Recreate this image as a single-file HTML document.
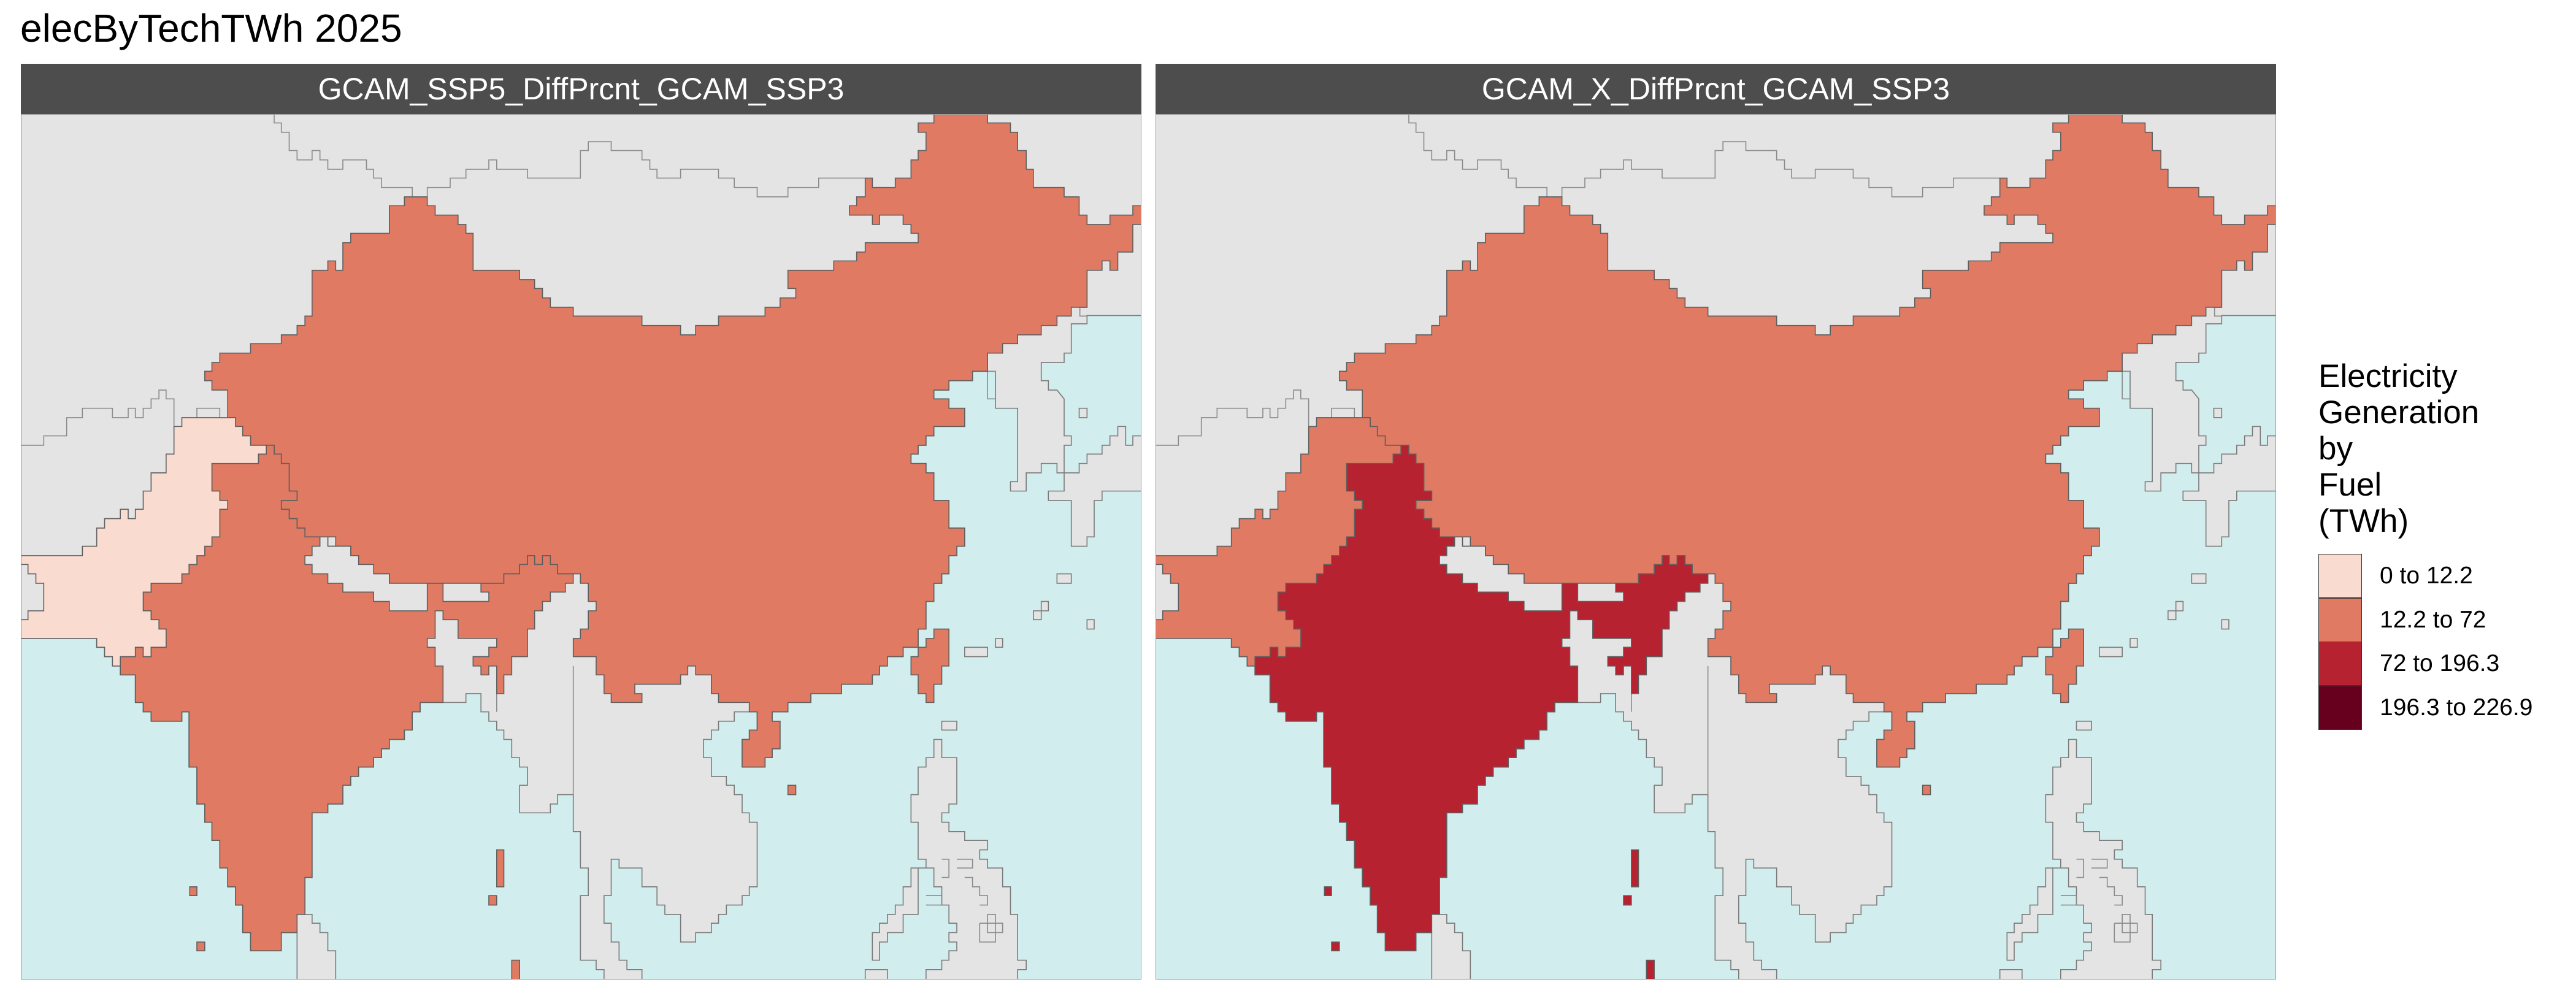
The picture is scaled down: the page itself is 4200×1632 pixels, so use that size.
<!DOCTYPE html>
<html><head><meta charset="utf-8">
<style>
html,body{margin:0;padding:0;background:#fff;}
body{width:4200px;height:1632px;position:relative;overflow:hidden;font-family:"Liberation Sans",sans-serif;}
#title{position:absolute;left:33px;top:9px;font-size:64px;color:#000;}
.strip{position:absolute;top:104px;height:82px;background:#4d4d4d;color:#fff;font-size:50px;text-align:center;line-height:82px;}
.panel{position:absolute;top:186px;height:1411px;width:1827px;}
#legend-title{position:absolute;left:3780px;top:584px;font-size:53px;line-height:59px;}
.key{position:absolute;left:3780px;width:71px;height:72px;border:1px solid #333;box-sizing:border-box;}
.klab{position:absolute;left:3880px;font-size:39px;line-height:72px;}
</style></head>
<body>
<div id="title">elecByTechTWh 2025</div>
<div class="strip" style="left:34px;width:1827px">GCAM_SSP5_DiffPrcnt_GCAM_SSP3</div>
<div class="strip" style="left:1884px;width:1827px">GCAM_X_DiffPrcnt_GCAM_SSP3</div>
<svg class="panel" id="p1" style="left:34px" viewBox="0 0 1566 1568" preserveAspectRatio="none"></svg>
<svg class="panel" id="p2" style="left:1884px" viewBox="0 0 1566 1568" preserveAspectRatio="none"></svg>
<div id="legend-title">Electricity<br>Generation<br>by<br>Fuel<br>(TWh)</div>
<div id="legend"></div>
<script>
// ---- data ----
const breaks = [0, 12.2, 72, 196.3, 226.9];
const classLabels = ["0 to 12.2", "12.2 to 72", "72 to 196.3", "196.3 to 226.9"];
const classColors = ["#fadbd0", "#e07a62", "#b72231", "#67001f"];
const regions = ["China", "India", "Pakistan"];
const panel1Values = [45, 40, 8];
const panel2Values = [50, 120, 30];

function classOf(v){for(let i=0;i<breaks.length-2;i++){if(v<breaks[i+1])return i;}return breaks.length-2;}

// ---- geometry (zoom coordinates) ----
const P = s => s.trim().split(/\s+/).map(p=>p.split(',').map(Number));
const geo = {};
geo.land = P(`0,0 1566,0 1566,365 1490,365 1490,380 1468,380 1468,433 1458,433 1458,450 1426,450 1426,483 1436,483 1436,500 1448,500 1458,516 1458,583 1468,583 1468,600 1458,600 1458,650 1448,650 1448,633 1426,633 1426,650 1405,650 1405,683 1383,683 1383,666 1393,666 1393,533 1362,533 1362,466 1330,466 1330,483 1297,483 1297,500 1276,500 1276,516 1297,516 1297,533 1319,533 1319,566 1276,566 1276,583 1265,583 1265,600 1254,600 1254,616 1244,616 1244,633 1265,633 1265,650 1276,650 1276,700 1297,700 1297,750 1319,750 1319,783 1308,783 1308,800 1297,800 1297,833 1287,833 1287,850 1276,850 1276,883 1265,883 1265,933 1254,933 1254,966 1233,966 1233,983 1211,983 1211,1000 1200,1000 1200,1016 1190,1016 1190,1033 1147,1033 1147,1050 1104,1050 1104,1066 1072,1066 1072,1083 1050,1083 1050,1100 1061,1100 1061,1150 1050,1150 1050,1166 1040,1166 1040,1183 1008,1183 1008,1133 1018,1133 1018,1116 1029,1116 1029,1083 997,1083 997,1100 975,1100 975,1116 965,1116 965,1133 954,1133 954,1166 965,1166 965,1200 986,1200 986,1216 997,1216 997,1233 1008,1233 1008,1266 1018,1266 1018,1283 1029,1283 1029,1400 1018,1400 1018,1416 1008,1416 1008,1433 986,1433 986,1450 975,1450 975,1466 965,1466 965,1483 943,1483 943,1500 922,1500 922,1450 900,1450 900,1433 889,1433 889,1400 868,1400 868,1366 836,1366 836,1350 825,1350 825,1416 815,1416 815,1466 825,1466 825,1500 836,1500 836,1533 847,1533 847,1550 868,1550 868,1568 815,1568 815,1550 804,1550 804,1533 782,1533 782,1416 793,1416 793,1366 782,1366 782,1300 772,1300 772,1233 750,1233 750,1250 740,1250 740,1266 697,1266 697,1216 708,1216 708,1183 697,1183 697,1166 686,1166 686,1133 675,1133 675,1116 665,1116 665,1100 654,1100 654,1083 643,1083 643,1050 622,1050 622,1066 558,1066 558,1083 547,1083 547,1116 536,1116 536,1133 515,1133 515,1150 504,1150 504,1166 493,1166 493,1183 472,1183 472,1200 461,1200 461,1216 450,1216 450,1250 429,1250 429,1266 407,1266 407,1383 397,1383 397,1450 407,1450 407,1466 418,1466 418,1483 429,1483 429,1516 440,1516 440,1568 386,1568 386,1483 364,1483 364,1516 321,1516 321,1483 310,1483 310,1433 300,1433 300,1400 289,1400 289,1366 278,1366 278,1316 267,1316 267,1283 257,1283 257,1250 246,1250 246,1183 235,1183 235,1083 225,1083 225,1100 182,1100 182,1083 171,1083 171,1066 160,1066 160,1016 139,1016 139,1000 128,1000 128,983 117,983 117,966 106,966 106,950 0,950`);
geo.phil = P(`1254,1183 1265,1183 1265,1166 1276,1166 1276,1133 1287,1133 1287,1166 1308,1166 1308,1250 1297,1250 1297,1266 1287,1266 1287,1283 1297,1283 1297,1300 1319,1300 1319,1316 1351,1316 1351,1333 1340,1333 1340,1350 1351,1350 1351,1366 1372,1366 1372,1400 1383,1400 1383,1450 1393,1450 1393,1533 1405,1533 1405,1550 1393,1550 1393,1568 1265,1568 1265,1550 1287,1550 1287,1533 1297,1533 1297,1516 1308,1516 1308,1500 1297,1500 1297,1483 1308,1483 1308,1466 1297,1466 1297,1433 1287,1433 1287,1400 1276,1400 1276,1366 1244,1366 1244,1400 1233,1400 1233,1433 1222,1433 1222,1450 1211,1450 1211,1466 1200,1466 1200,1483 1190,1483 1190,1533 1200,1533 1200,1500 1211,1500 1211,1483 1233,1483 1233,1450 1254,1450 1254,1366 1265,1366 1265,1350 1254,1350 1254,1283 1244,1283 1244,1233 1254,1233`);
geo.japan = P(`1436,683 1436,700 1468,700 1468,783 1490,783 1490,766 1500,766 1500,700 1511,700 1511,683 1566,683 1566,583 1554,583 1554,600 1544,600 1544,566 1533,566 1533,583 1522,583 1522,600 1511,600 1511,616 1490,616 1490,633 1479,633 1479,650 1458,650 1458,683`);
geo.smallGray = [P(`1180,1550 1211,1550 1211,1568 1180,1568`),P(`1287,1100 1308,1100 1308,1116 1287,1116`),P(`1319,966 1351,966 1351,983 1319,983`),P(`1448,833 1468,833 1468,850 1448,850`),P(`1479,533 1490,533 1490,550 1479,550`),P(`1490,916 1500,916 1500,933 1490,933`),P(`1362,950 1372,950 1372,966 1362,966`),P(`1415,900 1436,900 1436,883 1426,883 1426,916 1415,916`)];
geo.China = [P(`536,150 568,150 568,166 579,166 579,183 611,183 611,200 622,200 622,216 632,216 632,283 697,283 697,300 718,300 718,316 729,316 729,333 740,333 740,350 772,350 772,366 868,366 868,383 922,383 922,400 943,400 943,383 975,383 975,366 1040,366 1040,350 1061,350 1061,333 1083,333 1083,316 1072,316 1072,283 1136,283 1136,266 1168,266 1168,250 1180,250 1180,233 1254,233 1254,216 1244,216 1244,200 1233,200 1233,183 1200,183 1200,200 1190,200 1190,183 1158,183 1158,166 1168,166 1168,150 1180,150 1180,116 1190,116 1190,133 1222,133 1222,116 1244,116 1244,83 1254,83 1254,66 1265,66 1265,33 1254,33 1254,16 1276,16 1276,0 1351,0 1351,16 1383,16 1383,33 1393,33 1393,66 1405,66 1405,100 1415,100 1415,133 1458,133 1458,150 1479,150 1479,183 1490,183 1490,200 1522,200 1522,183 1554,183 1554,166 1566,166 1566,200 1554,200 1554,250 1533,250 1533,283 1522,283 1522,266 1511,266 1511,283 1490,283 1490,350 1468,350 1468,366 1448,366 1448,383 1426,383 1426,400 1393,400 1393,416 1372,416 1372,433 1351,433 1351,466 1330,466 1330,483 1297,483 1297,500 1276,500 1276,516 1297,516 1297,533 1319,533 1319,566 1276,566 1276,583 1265,583 1265,600 1254,600 1254,616 1244,616 1244,633 1265,633 1265,650 1276,650 1276,700 1297,700 1297,750 1319,750 1319,783 1308,783 1308,800 1297,800 1297,833 1287,833 1287,850 1276,850 1276,883 1265,883 1265,933 1254,933 1254,966 1233,966 1233,983 1211,983 1211,1000 1200,1000 1200,1016 1190,1016 1190,1033 1147,1033 1147,1050 1104,1050 1104,1066 1072,1066 1072,1083 1050,1083 1050,1100 1061,1100 1061,1150 1050,1150 1050,1166 1040,1166 1040,1183 1008,1183 1008,1133 1018,1133 1018,1116 1029,1116 1029,1083 1018,1083 1018,1066 975,1066 975,1050 965,1050 965,1016 943,1016 943,1000 932,1000 932,1016 922,1016 922,1033 858,1033 858,1050 868,1050 868,1066 825,1066 825,1050 815,1050 815,1016 804,1016 804,983 772,983 772,950 782,950 782,933 793,933 793,900 804,900 804,883 793,883 793,850 782,850 782,833 750,833 750,816 740,816 740,800 729,800 729,816 718,816 718,800 708,800 708,816 697,816 697,833 675,833 675,850 515,850 515,833 493,833 493,816 472,816 472,800 461,800 461,783 440,783 440,766 429,766 429,783 418,783 418,766 397,766 397,750 386,750 386,733 375,733 375,716 364,716 364,700 386,700 386,683 375,683 375,633 364,633 364,616 354,616 354,600 321,600 321,583 310,583 310,566 300,566 300,550 289,550 289,500 267,500 267,483 257,483 257,466 267,466 267,450 278,450 278,433 321,433 321,416 364,416 364,400 386,400 386,383 397,383 397,366 407,366 407,283 429,283 429,266 440,266 440,283 450,283 450,233 461,233 461,216 515,216 515,166 536,166`),
 P(`1276,933 1297,933 1297,1000 1287,1000 1287,1033 1276,1033 1276,1066 1265,1066 1265,1050 1254,1050 1254,1016 1244,1016 1244,983 1254,983 1254,966 1265,966 1265,950 1276,950`),
 P(`1072,1216 1083,1216 1083,1233 1072,1233`)];
geo.Pakistan = [P(`214,566 225,566 225,550 300,550 300,566 310,566 310,583 321,583 321,600 343,600 343,616 332,616 332,633 267,633 267,683 278,683 278,700 289,700 289,716 278,716 278,766 267,766 267,783 257,783 257,800 246,800 246,816 235,816 235,833 225,833 225,850 182,850 182,866 171,866 171,900 182,900 182,916 193,916 193,933 203,933 203,966 182,966 182,983 171,983 171,966 160,966 160,983 139,983 139,1000 128,1000 128,983 117,983 117,966 106,966 106,950 0,950 0,916 10,916 10,900 32,900 32,850 21,850 21,833 10,833 10,816 0,816 0,800 86,800 86,783 106,783 106,750 117,750 117,733 139,733 139,716 150,716 150,733 160,733 160,716 171,716 171,683 182,683 182,650 203,650 203,616 214,616`)];
geo.India = [P(`343,600 354,600 354,616 364,616 364,633 375,633 375,683 386,683 386,700 364,700 364,716 375,716 375,733 386,733 386,750 397,750 397,766 418,766 418,783 461,783 461,800 472,800 472,816 493,816 493,833 515,833 515,850 675,850 675,833 697,833 697,816 708,816 708,800 718,800 718,816 729,816 729,800 740,800 740,816 750,816 750,833 772,833 772,850 761,850 761,866 740,866 740,883 729,883 729,900 718,900 718,933 708,933 708,983 686,983 686,1016 675,1016 675,1050 665,1050 665,1000 654,1000 654,1016 643,1016 643,1000 632,1000 632,983 654,983 654,966 665,966 665,950 611,950 611,916 590,916 590,900 579,900 579,950 568,950 568,966 579,966 579,1000 590,1000 590,1066 558,1066 558,1083 547,1083 547,1116 536,1116 536,1133 515,1133 515,1150 504,1150 504,1166 493,1166 493,1183 472,1183 472,1200 461,1200 461,1216 450,1216 450,1250 429,1250 429,1266 407,1266 407,1383 397,1383 397,1450 386,1450 386,1483 364,1483 364,1516 321,1516 321,1483 310,1483 310,1433 300,1433 300,1400 289,1400 289,1366 278,1366 278,1316 267,1316 267,1283 257,1283 257,1250 246,1250 246,1183 235,1183 235,1083 225,1083 225,1100 182,1100 182,1083 171,1083 171,1066 160,1066 160,1016 139,1016 139,983 160,983 160,966 171,966 171,983 182,983 182,966 203,966 203,933 193,933 193,916 182,916 182,900 171,900 171,866 182,866 182,850 225,850 225,833 235,833 235,816 246,816 246,800 257,800 257,783 267,783 267,766 278,766 278,716 289,716 289,700 278,700 278,683 267,683 267,633 332,633 332,616 343,616`),
 P(`665,1333 675,1333 675,1400 665,1400`),P(`654,1416 665,1416 665,1433 654,1433`),P(`236,1400 246,1400 246,1416 236,1416`),P(`246,1500 257,1500 257,1516 246,1516`),P(`686,1533 697,1533 697,1568 686,1568`)];
geo.nepal = P(`407,783 418,783 418,766 429,766 429,783 461,783 461,800 472,800 472,816 493,816 493,833 515,833 515,850 568,850 568,900 515,900 515,883 493,883 493,866 450,866 450,850 429,850 429,833 407,833 407,816 397,816 397,800 407,800`);
geo.bhutan = P(`590,850 643,850 643,866 654,866 654,883 590,883`);
geo.borders = [P(`354,0 354,16 364,16 364,33 375,33 375,66 386,66 386,83 407,83 407,66 418,66 418,83 429,83 429,100 450,100 450,83 483,83 483,100 493,100 493,116 504,116 504,133 547,133 547,150`),
 P(`568,150 568,133 600,133 600,116 622,116 622,100 654,100 654,83 665,83 665,100 708,100 708,116 782,116 782,66 793,66 793,50 825,50 825,66 868,66 868,83 879,83 879,100 889,100 889,116 922,116 922,100 975,100 975,116 997,116 997,133 1029,133 1029,150 1072,150 1072,133 1115,133 1115,116 1180,116`),
 P(`0,600 32,600 32,583 64,583 64,550 86,550 86,533 128,533 128,550 150,550 150,533 160,533 160,550 171,550 171,533 182,533 182,516 193,516 193,500 203,500 203,516 214,516 214,566`),
 P(`246,550 246,533 278,533 278,550`),
 P(`1490,283 1490,350 1480,350 1480,366 1490,366`),
 P(`1362,466 1351,466 1351,516 1362,516 1362,533`),
 P(`1211,483 1244,483 1244,466 1254,466 1254,450 1276,450 1276,433 1297,433 1297,450 1276,450 1276,500 1265,500 1265,516 1254,516 1254,533 1233,533 1233,500 1211,500 1211,483`),
 P(`665,1050 665,1083`),
 P(`772,1233 772,1000`),
 P(`1287,1350 1297,1350 1297,1383 1287,1383`), P(`1308,1350 1330,1350 1330,1366 1308,1366`),P(`1265,1416 1287,1416 1287,1433 1265,1433`),P(`1319,1383 1330,1383 1330,1400 1340,1400 1340,1416 1351,1416 1351,1433 1340,1433`),P(`1340,1466 1372,1466 1372,1483 1351,1483 1351,1450 1362,1450 1362,1500 1340,1500 1340,1466`)];

const NS='http://www.w3.org/2000/svg';
function poly(svg, pts, fill, name, stroke){
  const el=document.createElementNS(NS,'polygon');
  el.setAttribute('points', pts.map(p=>p.join(',')).join(' '));
  el.setAttribute('fill', fill);
  el.setAttribute('stroke', stroke||'#6e6e6e');
  el.setAttribute('stroke-width','1.6');
  el.setAttribute('vector-effect','non-scaling-stroke');
  
  
  svg.appendChild(el);
  return el;
}
function line(svg, pts, name){
  const el=document.createElementNS(NS,'polyline');
  el.setAttribute('points', pts.map(p=>p.join(',')).join(' '));
  el.setAttribute('fill','none');
  el.setAttribute('stroke','#8a8a8a');
  el.setAttribute('stroke-width','1.6');
  el.setAttribute('vector-effect','non-scaling-stroke');
  
  
  svg.appendChild(el);
}
function drawPanel(svg, values){
  const bg=document.createElementNS(NS,'rect');
  bg.setAttribute('x',0);bg.setAttribute('y',0);bg.setAttribute('width',1566);bg.setAttribute('height',1568);
  bg.setAttribute('fill','#d1eded');
  
  
  svg.appendChild(bg);
  poly(svg, geo.land, '#e4e4e4', 'land-mainland', '#7a7a7a');
  poly(svg, geo.phil, '#e4e4e4', 'land-philippines', '#7a7a7a');
  poly(svg, geo.japan, '#e4e4e4', 'land-japan', '#7a7a7a');
  geo.smallGray.forEach(g=>poly(svg, g, '#e4e4e4', 'land-island', '#7a7a7a'));
  geo.borders.forEach(b=>line(svg, b, 'country-border'));
  regions.forEach((r,i)=>{
    const col=classColors[classOf(values[i])];
    geo[r].forEach(g=>poly(svg, g, col, 'region-'+r.toLowerCase(), '#5e5e5e'));
  });
  poly(svg, geo.nepal, '#e4e4e4', 'region-nepal', '#5e5e5e');
  poly(svg, geo.bhutan, '#e4e4e4', 'region-bhutan', '#5e5e5e');
  const fr=document.createElementNS(NS,'rect');
  fr.setAttribute('x',0);fr.setAttribute('y',0);fr.setAttribute('width',1566);fr.setAttribute('height',1568);
  fr.setAttribute('fill','none');fr.setAttribute('stroke','#9a9a9a');fr.setAttribute('stroke-width','2');
  fr.setAttribute('vector-effect','non-scaling-stroke');
  
  
  svg.appendChild(fr);
}
drawPanel(document.getElementById('p1'), panel1Values);
drawPanel(document.getElementById('p2'), panel2Values);

const leg=document.getElementById('legend');
classLabels.forEach((lab,i)=>{
  const k=document.createElement('div');
  k.className='key';
  k.style.top=(903+i*71.5)+'px';
  k.style.background=classColors[i];
  
  
  leg.appendChild(k);
  const t=document.createElement('div');
  t.className='klab';
  t.style.top=(903+i*71.5)+'px';
  t.textContent=lab;
  
  
  leg.appendChild(t);
});
</script>
</body></html>
